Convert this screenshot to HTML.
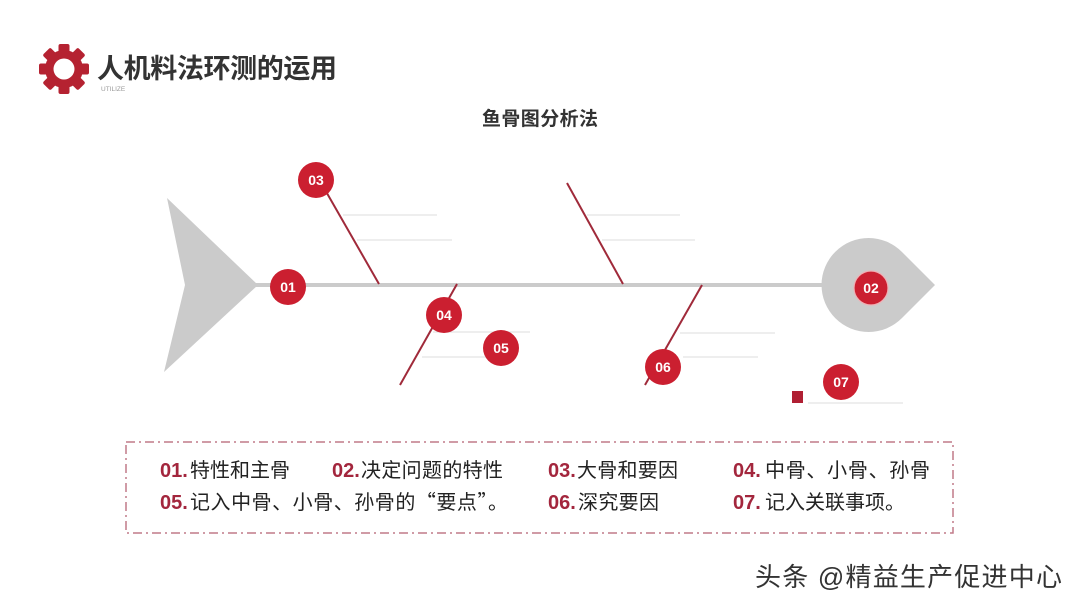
<!DOCTYPE html>
<html><head><meta charset="utf-8">
<style>
html,body{margin:0;padding:0;background:#fff;}
svg{display:block;}
text{font-family:"Liberation Sans","Noto Sans CJK SC",sans-serif;}
.cj{font-family:"Noto Sans CJK SC",sans-serif;}
</style></head>
<body>
<svg width="1080" height="608" viewBox="0 0 1080 608" xmlns="http://www.w3.org/2000/svg">
<rect width="1080" height="608" fill="#fff"/>
<!-- gear -->
<g transform="translate(64,69)" fill="#b52231">
  <circle r="19"/>
  <rect x="-5.5" y="-25" width="11" height="12" rx="2"/>
  <rect x="-5.5" y="-25" width="11" height="12" rx="2" transform="rotate(45)"/>
  <rect x="-5.5" y="-25" width="11" height="12" rx="2" transform="rotate(90)"/>
  <rect x="-5.5" y="-25" width="11" height="12" rx="2" transform="rotate(135)"/>
  <rect x="-5.5" y="-25" width="11" height="12" rx="2" transform="rotate(180)"/>
  <rect x="-5.5" y="-25" width="11" height="12" rx="2" transform="rotate(225)"/>
  <rect x="-5.5" y="-25" width="11" height="12" rx="2" transform="rotate(270)"/>
  <rect x="-5.5" y="-25" width="11" height="12" rx="2" transform="rotate(315)"/>
  <circle r="10.5" fill="#fff"/>
</g>
<text x="97" y="78" font-size="27" font-weight="bold" fill="#333" textLength="240">人机料法环测的运用</text>
<text x="101" y="91" font-size="6.5" fill="#999">UTILIZE</text>
<text x="482" y="125" font-size="19" font-weight="bold" fill="#333" textLength="116">鱼骨图分析法</text>

<!-- tail -->
<polygon points="167,198 258,285 164,372 185,285" fill="#cbcbcb"/>
<!-- spine -->
<rect x="255" y="283" width="600" height="4" fill="#cbcbcb"/>
<!-- head -->
<path d="M902,252 A47,47 0 1 0 902,318 L935,285 Z" fill="#cbcbcb"/>

<!-- thin gray lines -->
<g stroke="#dcdcdc" stroke-width="1">
  <line x1="343" y1="215" x2="437" y2="215"/>
  <line x1="357" y1="240" x2="452" y2="240"/>
  <line x1="587" y1="215" x2="680" y2="215"/>
  <line x1="602" y1="240" x2="695" y2="240"/>
  <line x1="433" y1="332" x2="530" y2="332"/>
  <line x1="422" y1="357" x2="490" y2="357"/>
  <line x1="680" y1="333" x2="775" y2="333"/>
  <line x1="683" y1="357" x2="758" y2="357"/>
  <line x1="808" y1="403" x2="903" y2="403"/>
</g>
<!-- red bones -->
<g stroke="#a02a3a" stroke-width="2">
  <line x1="324" y1="188" x2="379" y2="284"/>
  <line x1="457" y1="284" x2="400" y2="385"/>
  <line x1="567" y1="183" x2="623" y2="284"/>
  <line x1="702" y1="285" x2="645" y2="385"/>
</g>
<rect x="792" y="391" width="11" height="12" fill="#b01f33"/>

<!-- circles -->
<g fill="#cb1f30">
  <circle cx="288" cy="287" r="18"/>
  <circle cx="316" cy="180" r="18"/>
  <circle cx="444" cy="315" r="18"/>
  <circle cx="501" cy="348" r="18"/>
  <circle cx="663" cy="367" r="18"/>
  <circle cx="841" cy="382" r="18"/>
  <circle cx="871" cy="288" r="17" stroke="#f0b0b5" stroke-width="1.2"/>
</g>
<g fill="#fff" font-size="14" font-weight="bold" text-anchor="middle">
  <text x="288" y="292">01</text>
  <text x="316" y="185">03</text>
  <text x="444" y="320">04</text>
  <text x="501" y="353">05</text>
  <text x="663" y="372">06</text>
  <text x="841" y="387">07</text>
  <text x="871" y="293">02</text>
</g>

<!-- dashed box -->
<rect x="126" y="442" width="827" height="91" fill="none" stroke="#c07a88" stroke-width="1.5" stroke-dasharray="9 4 2 4"/>
<g font-size="20" fill="#a3263d" font-weight="bold">
  <text x="160" y="477">01.</text>
  <text x="332" y="477">02.</text>
  <text x="548" y="477">03.</text>
  <text x="733" y="477">04.</text>
  <text x="160" y="509">05.</text>
  <text x="548" y="509">06.</text>
  <text x="733" y="509">07.</text>
</g>
<g font-size="20" fill="#222" class="cj">
  <text class="cj" x="190" y="477" textLength="100">特性和主骨</text>
  <text class="cj" x="361" y="477" textLength="142">决定问题的特性</text>
  <text class="cj" x="577" y="477" textLength="101">大骨和要因</text>
  <text class="cj" x="765" y="477" textLength="165">中骨、小骨、孙骨</text>
  <text class="cj" x="190" y="509" textLength="318">记入中骨、小骨、孙骨的“要点”。</text>
  <text class="cj" x="578" y="509" textLength="81">深究要因</text>
  <text class="cj" x="765" y="509" textLength="140">记入关联事项。</text>
</g>

<!-- watermark -->
<text x="755" y="586" font-size="26" fill="#fff" stroke="#fff" stroke-width="3" textLength="307">头条 @精益生产促进中心</text>
<text x="755" y="586" font-size="26" fill="#333" textLength="307">头条 @精益生产促进中心</text>
</svg>
</body></html>
